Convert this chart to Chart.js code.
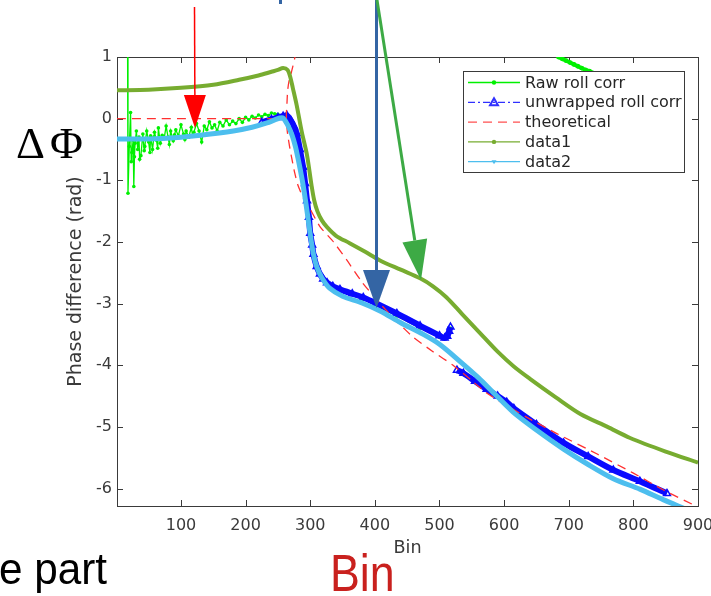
<!DOCTYPE html>
<html>
<head>
<meta charset="utf-8">
<title>Phase difference vs bin</title>
<script src="https://cdn.jsdelivr.net/npm/chart.js@4.4.1/dist/chart.umd.min.js"></script>
<style>
  html, body { margin: 0; padding: 0; background: #fff; }
  #wrap { width: 711px; height: 596px; }
</style>
</head>
<body>
<div id="wrap"><canvas id="phaseChart" width="711" height="596"></canvas></div>
<script>
// Axis ticks and range
const binTicks = [100, 200, 300, 400, 500, 600, 700, 800, 900];
const phaseTicks = [-6, -5, -4, -3, -2, -1, 0, 1];
const binRange = [1, 900];
const phaseRange = [-6.2832, 1];

// Legend labels, in plotting order
const seriesNames = ['Raw roll corr', 'unwrapped roll corr', 'theoretical', 'data1', 'data2'];

// Raw roll corr (noisy start, wrapped piece near the top)
const rawBins = [17, 18, 20, 22, 23, 24, 26, 27, 28, 29, 31, 33, 35, 36, 38, 41, 43, 44, 47, 50,
  52, 53, 56, 58, 59, 62, 64, 65, 68, 71, 74, 77, 80, 82, 84, 88, 90, 92, 96, 100,
  104, 106, 108, 112, 116, 118, 120, 124, 128, 132, 136, 140, 144, 148, 152, 156, 160, 165, 170, 175,
  180, 185, 190, 195, 200, 205, 210, 215, 220, 225, 230, 235, 240, 245, 250, 254, 258, 264, 279, 289,
  300, 310, 326, 346, 382, 434, 470, 500, 510, 514, 517,
  600, 684, 690, 696, 702, 708, 714, 720, 726, 732, 745, 760, 780, 800, 825, 850];
const rawPhase = [2.5, -1.21, -0.45, 0.1, -0.7, -0.55, -0.35, -1.1, -0.62, -0.4, -0.2, -0.5, -0.3, -0.66, -0.6, -0.25, -0.52, -0.45, -0.2, -0.38,
  -0.55, -0.28, -0.5, -0.3, -0.22, -0.35, -0.48, -0.15, -0.4, -0.27, -0.32, -0.12, -0.3, -0.42, -0.2, -0.36, -0.26, -0.18, -0.28, -0.1,
  -0.25, -0.34, -0.2, -0.3, -0.14, -0.28, -0.22, -0.08, -0.2, -0.38, -0.12, -0.18, -0.05, -0.15, -0.1, -0.2, -0.06, -0.12, -0.02, -0.1,
  -0.04, -0.08, 0.0, -0.06, 0.02, -0.02, 0.04, 0.01, 0.06, 0.03, 0.07, 0.05, 0.09, 0.08, 0.07, 0.04, 0.02, 0.05, -0.24, -0.79,
  -1.86, -2.4, -2.68, -2.8, -2.93, -3.2, -3.4, -3.55, -3.57, -3.48, -3.4,
  null, 1.0, 0.97, 0.94, 0.91, 0.88, 0.85, 0.82, 0.79, 0.77, 0.71, 0.64, 0.55, 0.46, 0.34, 0.21];

// Unwrapped roll corr
const unwrapBins = [225, 240, 250, 258, 264, 270, 275, 279, 284, 289, 292, 295, 298, 300, 303, 305, 310, 315, 320, 326,
  335, 346, 365, 382, 403, 434, 470, 500, 508, 512, 515, 517, 520, 527, 537, 555, 573, 590, 604, 615,
  650, 692, 730, 769, 810, 852];
const unwrapPhase = [-0.06, -0.01, 0.02, 0.04, 0.05, -0.03, -0.13, -0.24, -0.5, -0.79, -1.05, -1.33, -1.6, -1.86, -2.05, -2.2, -2.4, -2.52, -2.6, -2.66,
  -2.72, -2.77, -2.84, -2.9, -3.0, -3.16, -3.36, -3.52, -3.56, -3.53, -3.45, -3.38, null, -4.08, -4.13, -4.26, -4.39, -4.5, -4.6, -4.7,
  -4.96, -5.26, -5.48, -5.7, -5.88, -6.08];

// Theoretical: flat part, then the branch coming down from the top
const theoBins = [1, 262, 263, 278, 276, 271, 267, 265, 264, 263, 264, 265, 268, 271, 276, 281, 289, 300, 315, 336,
  357, 380, 408, 435, 460, 490, 521, 550, 573, 600, 636, 680, 744, 800, 846, 900];
const theoPhase = [0, 0, null, 1.1, 0.98, 0.76, 0.6, 0.45, 0.25, 0.05, -0.15, -0.25, -0.45, -0.62, -0.88, -1.08, -1.28, -1.47, -1.75, -2.0,
  -2.3, -2.65, -3.0, -3.3, -3.55, -3.78, -4.0, -4.25, -4.45, -4.63, -4.85, -5.1, -5.44, -5.75, -6.02, -6.3];

// data1
const data1Bins = [1, 50, 100, 150, 190, 220, 240, 250, 258, 265, 269, 273, 279, 287, 295, 302, 306, 311, 318, 326,
  340, 361, 385, 408, 440, 470, 490, 511, 535, 562, 590, 615, 640, 680, 718, 760, 795, 850, 900];
const data1Phase = [0.46, 0.47, 0.5, 0.55, 0.63, 0.7, 0.76, 0.79, 0.82, 0.79, 0.68, 0.5, 0.22, -0.22, -0.59, -1.08, -1.32, -1.5, -1.65, -1.76,
  -1.9, -2.02, -2.16, -2.3, -2.45, -2.59, -2.72, -2.9, -3.17, -3.47, -3.78, -4.02, -4.22, -4.52, -4.79, -5.0, -5.18, -5.4, -5.58];

// data2
const data2Bins = [1, 50, 100, 130, 181, 210, 233, 245, 253, 258, 265, 272, 277, 281, 285, 289, 293, 297, 301, 305,
  310, 318, 330, 350, 380, 408, 440, 475, 500, 532, 560, 583, 614, 650, 692, 730, 769, 810, 846, 880];
const data2Phase = [-0.33, -0.33, -0.3, -0.27, -0.2, -0.14, -0.07, -0.02, 0.01, 0.01, -0.1, -0.27, -0.45, -0.64, -0.85, -1.08, -1.35, -1.65, -1.95, -2.2,
  -2.4, -2.58, -2.75, -2.88, -2.99, -3.12, -3.31, -3.5, -3.66, -3.94, -4.2, -4.44, -4.76, -5.05, -5.36, -5.61, -5.84, -6.01, -6.18, -6.33];

const toPoints = (xs, ys) => xs.map((x, i) => ({ x: x, y: ys[i] }));

const AXIS_COLOR = '#3a3a3a';
const TEXT_COLOR = '#3a3a3a';
const FONT = '"DejaVu Sans", sans-serif';

const colors = {
  raw: '#00f000',
  unwrap: '#0a0aff',
  theo: '#ff3030',
  data1: '#77ac30',
  data2: '#4dbeee'
};

// Box round the plot with MATLAB style inward ticks
const axesBox = {
  id: 'axesBox',
  beforeDatasetsDraw(chart) {
    const { ctx, chartArea: a, scales } = chart;
    ctx.save();
    ctx.strokeStyle = AXIS_COLOR;
    ctx.lineWidth = 1;
    ctx.strokeRect(a.left + 0.5, a.top + 0.5, a.right - a.left, a.bottom - a.top);
    ctx.beginPath();
    binTicks.forEach(v => {
      const x = Math.round(scales.x.getPixelForValue(v)) + 0.5;
      ctx.moveTo(x, a.bottom); ctx.lineTo(x, a.bottom - 6);
      ctx.moveTo(x, a.top); ctx.lineTo(x, a.top + 6);
    });
    phaseTicks.forEach(v => {
      const y = Math.round(scales.y.getPixelForValue(v)) + 0.5;
      ctx.moveTo(a.left, y); ctx.lineTo(a.left + 6, y);
      ctx.moveTo(a.right, y); ctx.lineTo(a.right - 6, y);
    });
    ctx.stroke();
    ctx.restore();
  }
};

function drawMarker(ctx, kind, x, y, color) {
  ctx.save();
  ctx.setLineDash([]);
  ctx.fillStyle = color;
  ctx.strokeStyle = color;
  if (kind === 'dot') {
    ctx.beginPath(); ctx.arc(x, y, 2.2, 0, Math.PI * 2); ctx.fill();
  } else if (kind === 'tri') {
    ctx.lineWidth = 2;
    ctx.beginPath(); ctx.moveTo(x, y - 4); ctx.lineTo(x + 4, y + 3); ctx.lineTo(x - 4, y + 3); ctx.closePath(); ctx.stroke();
  } else if (kind === 'down') {
    ctx.beginPath(); ctx.moveTo(x - 2.5, y - 1.5); ctx.lineTo(x + 2.5, y - 1.5); ctx.lineTo(x, y + 2.5); ctx.closePath(); ctx.fill();
  }
  ctx.restore();
}

// Legend box drawn over the plot area, top right
const legendBox = {
  id: 'legendBox',
  afterDatasetsDraw(chart) {
    const { ctx, chartArea: a } = chart;
    const left = a.right - 235, top = a.top + 14, w = 221, h = 101;
    const styles = [
      { color: colors.raw, dash: [], marker: 'dot' },
      { color: '#3030ff', dash: [7, 3, 2, 3], marker: 'tri' },
      { color: '#ff5050', dash: [9, 6], marker: null },
      { color: colors.data1, dash: [], marker: 'dot' },
      { color: colors.data2, dash: [], marker: 'down' }
    ];
    ctx.save();
    ctx.fillStyle = '#fff';
    ctx.fillRect(left, top, w, h);
    ctx.strokeStyle = AXIS_COLOR;
    ctx.lineWidth = 1;
    ctx.strokeRect(left + 0.5, top + 0.5, w, h);
    ctx.font = '16px ' + FONT;
    ctx.textBaseline = 'middle';
    seriesNames.forEach((name, i) => {
      const y = top + 11.5 + i * 19.8;
      const s = styles[i];
      ctx.strokeStyle = s.color;
      ctx.lineWidth = 1.3;
      ctx.setLineDash(s.dash);
      ctx.beginPath(); ctx.moveTo(left + 5, y); ctx.lineTo(left + 57, y); ctx.stroke();
      if (s.marker) drawMarker(ctx, s.marker, left + 31, y, s.color);
      ctx.fillStyle = '#262626';
      ctx.fillText(name, left + 62, y + 1);
    });
    ctx.restore();
  }
};

function arrow(ctx, x0, y0, x1, y1, headLen, headW, color, lw) {
  const dx = x1 - x0, dy = y1 - y0, len = Math.hypot(dx, dy);
  const ux = dx / len, uy = dy / len;
  const bx = x1 - ux * headLen, by = y1 - uy * headLen;
  ctx.save();
  ctx.strokeStyle = color;
  ctx.fillStyle = color;
  ctx.lineWidth = lw;
  ctx.beginPath(); ctx.moveTo(x0, y0); ctx.lineTo(bx, by); ctx.stroke();
  ctx.beginPath();
  ctx.moveTo(x1, y1);
  ctx.lineTo(bx - uy * headW / 2, by + ux * headW / 2);
  ctx.lineTo(bx + uy * headW / 2, by - ux * headW / 2);
  ctx.closePath();
  ctx.fill();
  ctx.restore();
}

// Slide annotations: arrows and captions around the plot
const slideNotes = {
  id: 'slideNotes',
  afterDraw(chart) {
    const ctx = chart.ctx;
    arrow(ctx, 194.5, 7, 195, 128, 33, 22, '#ff0000', 1.5);
    arrow(ctx, 376.5, 0, 376.5, 308, 38, 27, '#3465a4', 3);
    arrow(ctx, 377, 0, 421, 280, 40, 25, '#3daa45', 3);
    ctx.save();
    ctx.fillStyle = '#3465a4';
    ctx.fillRect(279, 0, 3, 4);
    ctx.fillStyle = '#000';
    ctx.textBaseline = 'alphabetic';
    ctx.font = '45px "Liberation Serif", "DejaVu Serif", serif';
    ctx.fillText('\u0394', 16, 158);
    ctx.fillText('\u03A6', 50, 158);
    ctx.font = '44px "Liberation Sans", sans-serif';
    ctx.save();
    ctx.translate(-1, 584);
    ctx.scale(0.96, 1);
    ctx.fillText('e part', 0, 0);
    ctx.restore();
    ctx.fillStyle = '#c9211e';
    ctx.font = '52px "Liberation Sans", sans-serif';
    ctx.translate(330, 591);
    ctx.scale(0.86, 1);
    ctx.fillText('Bin', 0, 0);
    ctx.restore();
  }
};

const lineBase = { parsing: true, spanGaps: false, pointHoverRadius: 0 };

new Chart(document.getElementById('phaseChart'), {
  type: 'line',
  data: {
    datasets: [
      {
        ...lineBase, label: seriesNames[0], data: toPoints(rawBins, rawPhase), order: 5,
        borderColor: colors.raw, backgroundColor: colors.raw, borderWidth: 1.3, tension: 0,
        pointRadius: ctx => (ctx.raw && ctx.raw.x > 600 ? 2.4 : 1.8), pointBorderWidth: 0,
        segment: { borderWidth: ctx => (ctx.p0.parsed.x > 600 ? 4 : 1.3) }
      },
      {
        ...lineBase, label: seriesNames[1], data: toPoints(unwrapBins, unwrapPhase), order: 4,
        borderColor: colors.unwrap, backgroundColor: 'rgba(0,0,0,0)', borderWidth: 6, tension: 0.3,
        pointStyle: 'triangle', pointRadius: 4, pointBorderWidth: 1.5, pointBorderColor: colors.unwrap
      },
      {
        ...lineBase, label: seriesNames[2], data: toPoints(theoBins, theoPhase), order: 3,
        borderColor: colors.theo, borderWidth: 1.3, borderDash: [9, 6], tension: 0.2,
        pointRadius: 0
      },
      {
        ...lineBase, label: seriesNames[3], data: toPoints(data1Bins, data1Phase), order: 2,
        borderColor: colors.data1, borderWidth: 4, tension: 0.3, pointRadius: 0
      },
      {
        ...lineBase, label: seriesNames[4], data: toPoints(data2Bins, data2Phase), order: 1,
        borderColor: colors.data2, borderWidth: 5, tension: 0.3, pointRadius: 0
      }
    ]
  },
  options: {
    responsive: false,
    animation: false,
    events: [],
    layout: { padding: { left: 65, top: 57, right: 13, bottom: 37 } },
    plugins: {
      legend: { display: false },
      tooltip: { enabled: false }
    },
    scales: {
      x: {
        type: 'linear',
        min: binRange[0],
        max: binRange[1],
        grid: { display: false, drawTicks: false },
        border: { display: false },
        ticks: { color: TEXT_COLOR, font: { family: FONT, size: 16 }, padding: 10, maxRotation: 0 },
        afterBuildTicks: s => { s.ticks = binTicks.map(v => ({ value: v })); },
        afterFit: s => { s.height = 53; s.paddingLeft = 0; s.paddingRight = 0; },
        title: { display: true, text: 'Bin', color: TEXT_COLOR, font: { family: FONT, size: 17.6 }, padding: 0 }
      },
      y: {
        type: 'linear',
        min: phaseRange[0],
        max: phaseRange[1],
        grid: { display: false, drawTicks: false },
        border: { display: false },
        ticks: { color: TEXT_COLOR, font: { family: FONT, size: 16 }, padding: 5 },
        afterBuildTicks: s => { s.ticks = phaseTicks.map(v => ({ value: v })); },
        afterFit: s => { s.width = 52; s.paddingTop = 0; s.paddingBottom = 0; },
        title: { display: true, text: 'Phase difference (rad)', color: TEXT_COLOR, font: { family: FONT, size: 19 }, padding: 0 }
      }
    }
  },
  plugins: [axesBox, legendBox, slideNotes]
});
</script>
</body>
</html>
